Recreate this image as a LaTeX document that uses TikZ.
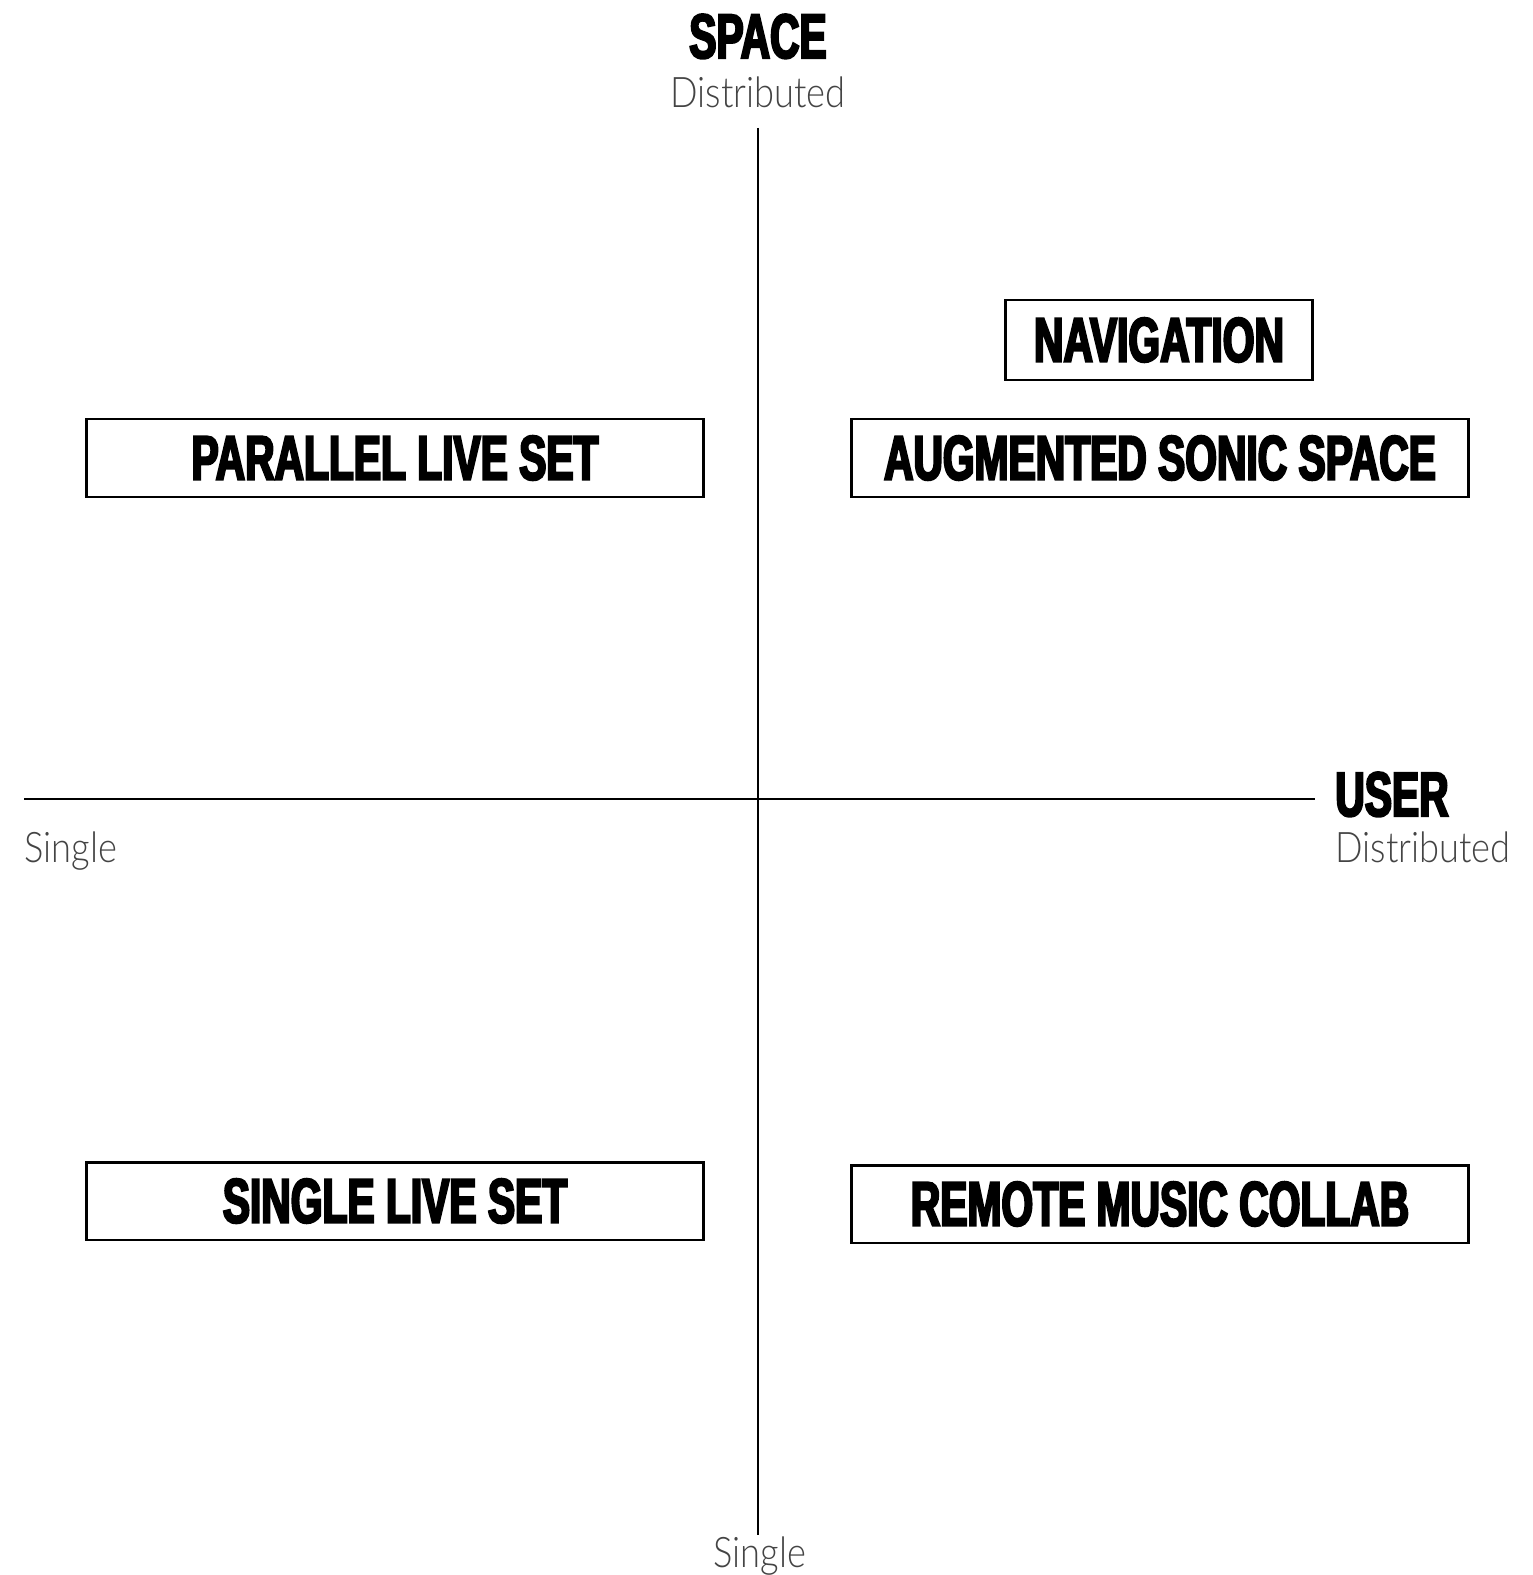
\documentclass[tikz,border=0pt]{standalone}
\usepackage{fontspec}
\usepackage{tikz}
\usetikzlibrary{positioning}

% heavy condensed caps for the titles, thin face for the axis ends
\newfontfamily\headfont[FakeStretch=0.65,FakeBold=3.5]{Liberation Sans Bold}
\newfontfamily\thinfont[FakeStretch=0.86]{Lato Light}
\definecolor{thingray}{HTML}{444444}

\begin{document}
\begin{tikzpicture}[x=0.02cm, y=-0.02cm,
      axis/.style={draw, line width=1.4pt},
      title/.style={font=\headfont\fontsize{35.7}{40}\selectfont, inner sep=0pt},
      endlabel/.style={font=\thinfont\fontsize{24}{28}\selectfont, text=thingray, inner sep=0pt},
      box/.style={draw, line width=1.4pt, rectangle, minimum width=12.34cm, minimum height=1.55cm,
                  inner sep=0pt, text centered, font=\headfont\fontsize{35.7}{40}\selectfont}]
      \useasboundingbox (0,0) rectangle (1532,1575);

      % axes
      \coordinate (top) at (758,128);
      \coordinate (bottom) at (758,1535);
      \coordinate (left) at (24,799);
      \coordinate (right) at (1315,799);
      \draw[axis] (top) -- (bottom);
      \draw[axis] (left) -- (right);

      % axis titles and ends
      \node (space) [title, anchor=base] at (758,58) {SPACE};
      \node (spacetop) [endlabel, anchor=base] at (758,108) {Distributed};
      \node (spacebot) [endlabel, anchor=base] at (760,1567) {Single};
      \node (user) [title, anchor=base west] at (1335,816) {USER};
      \node (userright) [endlabel, anchor=base west] at (1335,862) {Distributed};
      \node (userleft) [endlabel, anchor=base west] at (24,862) {Single};

      % quadrants
      \node (nav) [box, minimum width=6.14cm, minimum height=1.6cm] at (1159,340) {NAVIGATION};
      \node (parallel) [box] at (395,458) {PARALLEL LIVE SET};
      \node (augmented) [box] at (1160,458) {AUGMENTED SONIC SPACE};
      \node (single) [box] at (395,1201) {SINGLE LIVE SET};
      \node (remote) [box] at (1160,1204) {REMOTE MUSIC COLLAB};
    \end{tikzpicture}
\end{document}
